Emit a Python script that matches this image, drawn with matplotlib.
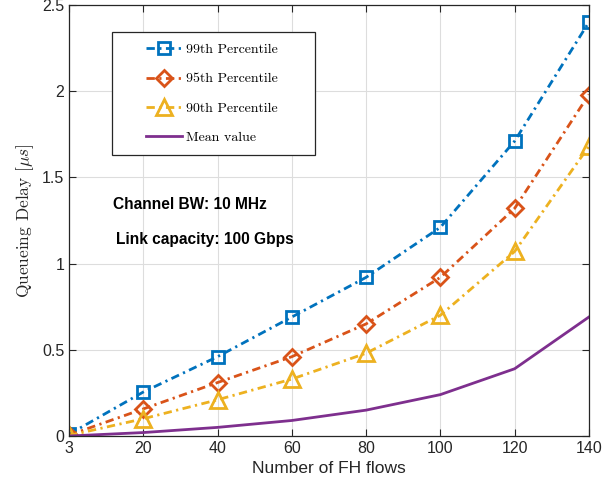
import matplotlib
matplotlib.use("Agg")
import matplotlib.pyplot as plt
from matplotlib.patches import Rectangle

plt.rcParams['mathtext.fontset'] = 'cm'
plt.rcParams['font.family'] = ['Liberation Sans', 'DejaVu Sans']

# FH flow counts (the first one sits on the axis origin)
flows = [3, 20, 40, 60, 80, 100, 120, 140]
xpos = [0, 20, 40, 60, 80, 100, 120, 140]

p99 = [0.01, 0.255, 0.46, 0.69, 0.92, 1.21, 1.71, 2.40]
p95 = [0.005, 0.157, 0.31, 0.46, 0.65, 0.92, 1.32, 1.98]
p90 = [0.003, 0.10, 0.21, 0.33, 0.48, 0.70, 1.07, 1.68]
mean_val = [0.0, 0.02, 0.05, 0.09, 0.15, 0.24, 0.39, 0.69]

dd = (3, 1.6, 0.8, 1.6)

fig = plt.figure(figsize=(6.16, 4.91), dpi=100)
ax = fig.add_axes([0.112, 0.112, 0.844, 0.878])

ax.plot(xpos, p99, color='#0072BD', lw=2.0, dashes=dd, marker='s', ms=8.5,
        mfc='none', mew=2.0, label='99th Percentile')
ax.plot(xpos, p95, color='#D95319', lw=2.0, dashes=dd, marker='D', ms=8.5,
        mfc='none', mew=2.0, label='95th Percentile')
ax.plot(xpos, p90, color='#EDB120', lw=2.0, dashes=dd, marker='^', ms=11.5,
        mfc='none', mew=2.0, label='90th Percentile')
ax.plot(xpos, mean_val, '-', color='#7E2F8E', lw=2.0, label='Mean value')

ax.set_xlim(0, 140)
ax.set_ylim(0, 2.5)
ax.set_xticks(xpos)
ax.set_xticklabels([str(f) for f in flows])
ax.set_yticks([0, 0.5, 1, 1.5, 2, 2.5])
ax.set_yticklabels(['0', '0.5', '1', '1.5', '2', '2.5'])
ax.tick_params(direction='in', top=True, right=True, labelsize=11.5, length=5,
               color='#262626', labelcolor='#262626')
for s in ax.spines.values():
    s.set_color('#262626')
    s.set_linewidth(0.9)
ax.grid(True, color='#dddddd', lw=0.8)
ax.set_axisbelow(True)

ax.set_xlabel('Number of FH flows', fontsize=12.5, color='#262626')
ax.set_ylabel(r'Queueing Delay [$\mu s$]', fontsize=12.5, color='#262626',
              family='cmr10')

ax.text(11.8, 1.34, 'Channel BW: 10 MHz', fontsize=11.2, fontweight='bold',
        va='center')
ax.text(12.7, 1.14, 'Link capacity: 100 Gbps', fontsize=11.2, fontweight='bold',
        va='center')

# legend box drawn separately (wide side padding like the original)
box = Rectangle((0.083, 0.652), 0.39, 0.285, transform=ax.transAxes,
                facecolor='white', edgecolor='#262626', lw=0.9, zorder=4)
ax.add_patch(box)
leg = ax.legend(loc='upper left', bbox_to_anchor=(0.148, 0.911), frameon=False,
                borderpad=0, labelspacing=1.2, handlelength=2.6,
                handletextpad=0.3, prop={'family': 'cmr10', 'size': 10},
                borderaxespad=0)
leg.set_zorder(5)

fig.savefig('out.png', dpi=100)
